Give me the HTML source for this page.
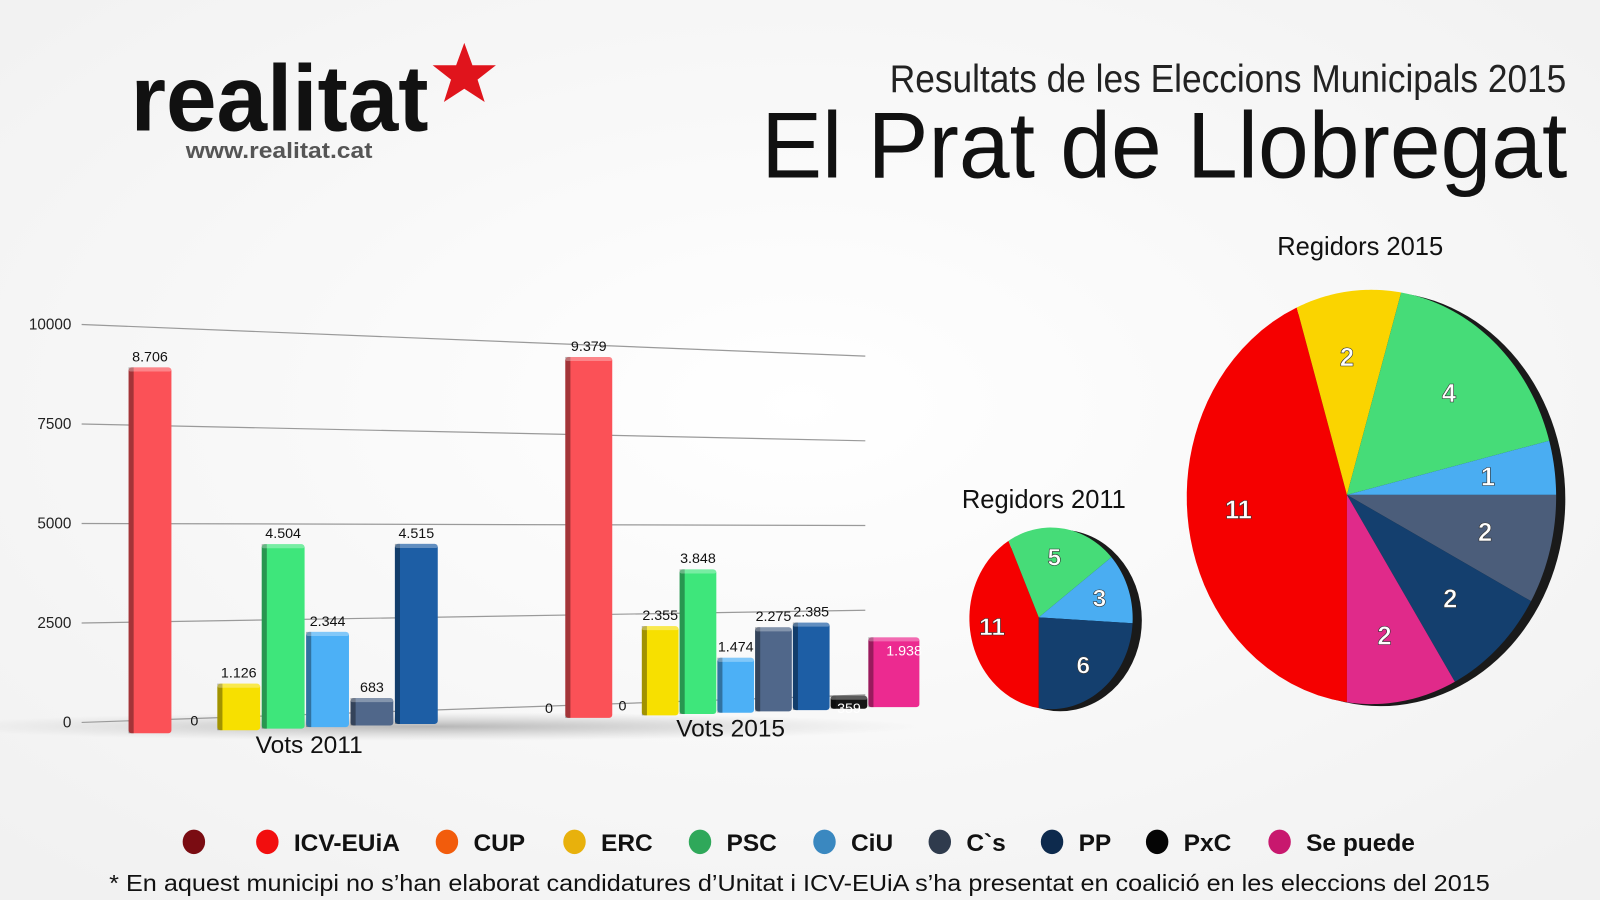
<!DOCTYPE html>
<html><head><meta charset="utf-8">
<style>
html,body{margin:0;padding:0;width:1600px;height:900px;overflow:hidden;background:#f7f7f7;}
svg{display:block;font-family:"Liberation Sans",sans-serif;}
</style></head>
<body>
<svg id="chart" width="1600" height="900" viewBox="0 0 1568 882" preserveAspectRatio="none">
<defs>
<radialGradient id="bg" cx="0.5" cy="0.45" r="0.7"><stop offset="0" stop-color="#ffffff"/><stop offset="1" stop-color="#f1f1f1"/></radialGradient>
<radialGradient id="shadow" cx="0.5" cy="0.5" r="0.5"><stop offset="0" stop-color="#9a9a9a" stop-opacity="0.7"/><stop offset="1" stop-color="#bbb" stop-opacity="0"/></radialGradient>
</defs>
<rect width="1568" height="882" fill="url(#bg)"/>
<g>
<text x="128" y="128" font-size="92" font-weight="bold" fill="#111" textLength="292" lengthAdjust="spacingAndGlyphs">realitat</text>
<polygon points="455,42 463,64 486,64 468,78 475,100 455,87 435,100 442,78 424,64 447,64" fill="#e0141c"/>
<text x="182" y="155" font-size="22" font-weight="bold" fill="#555" textLength="183" lengthAdjust="spacingAndGlyphs">www.realitat.cat</text>
</g>
<text x="872" y="90" font-size="38" fill="#222" textLength="663" lengthAdjust="spacingAndGlyphs">Resultats de les Eleccions Municipals 2015</text>
<text x="746" y="174" font-size="92" fill="#111" textLength="790" lengthAdjust="spacingAndGlyphs">El Prat de Llobregat</text>
<g id="bars"></g>
<g id="pies"></g>
<g id="legend"></g>
<text x="107" y="873" font-size="23" fill="#111" textLength="1353" lengthAdjust="spacingAndGlyphs">* En aquest municipi no s’han elaborat candidatures d’Unitat i ICV-EUiA s’ha presentat en coalició en les eleccions del 2015</text>
</svg>
<script>
// ---- data ----
const ticks = [0, 2500, 5000, 7500, 10000];
const cats2011 = ["ICV-EUiA","CUP","ERC","PSC","CiU","C`s","PP"];
const votes2011 = [8706, 0, 1126, 4504, 2344, 683, 4515];
const labels2011 = ["8.706","0","1.126","4.504","2.344","683","4.515"];
const cats2015 = ["Unitat","ICV-EUiA","CUP","ERC","PSC","CiU","C`s","PP","PxC","Se puede"];
const votes2015 = [0, 9379, 0, 2355, 3848, 1474, 2275, 2385, 359, 1938];
const labels2015 = ["0","9.379","0","2.355","3.848","1.474","2.275","2.385","359","1.938"];
const seats2011Parties = ["ICV-EUiA","PSC","CiU","PP"];
const seats2011 = [11, 5, 3, 6];
const seats2015Parties = ["ICV-EUiA","ERC","PSC","CiU","C`s","PP","Se puede"];
const seats2015 = [11, 2, 4, 1, 2, 2, 2];
const legendNames = ["","ICV-EUiA","CUP","ERC","PSC","CiU","C`s","PP","PxC","Se puede"];

const NS = "http://www.w3.org/2000/svg";
const barColor = {"Unitat":"#7a0a10","ICV-EUiA":"#fb5157","CUP":"#f26a10","ERC":"#f7e000","PSC":"#3ee67b","CiU":"#4cb0f6","C`s":"#50678a","PP":"#1d5ea5","PxC":"#151515","Se puede":"#ec2a90"};
const pieColor = {"ICV-EUiA":"#f50000","ERC":"#fad400","PSC":"#46dc78","CiU":"#4aadf2","C`s":"#4b5d7a","PP":"#143f6e","Se puede":"#e02a8a"};
const legColor = ["#7a0c12","#f20e0e","#f25c0c","#e8b10c","#2fa85a","#3a88c0","#2f3b4d","#0d2a4d","#050505","#c8186e"];
function mk(tag, attrs, parent){const e=document.createElementNS(NS,tag);for(const k in attrs)e.setAttribute(k,attrs[k]);parent.appendChild(e);return e;}

// ---- axes (perspective) ----
function baseY(x){return 708 - 27*(x-80)/768;}
function topY(x){return 318 + 31*(x-80)/768;}
function gridY(v,x){return baseY(x) - v/10000*(baseY(x)-topY(x));}
function barY(v,x){return baseY(x) + 13 - v/10000*(baseY(x)-topY(x))*1.07;}

const gB = document.getElementById('bars');
const sh = mk('ellipse',{cx:420,cy:712,rx:480,ry:14,fill:'url(#shadow)'},gB);


ticks.forEach(t=>{
  const l = mk('line',{x1:80,y1:gridY(t,80),x2:848,y2:gridY(t,848),stroke:'#9a9a9a','stroke-width':1.2},gB);
  
  
  const tx = mk('text',{x:70,y:gridY(t,80)+5,'font-size':15,'text-anchor':'end',fill:'#222'},gB);
  tx.textContent = t;
  
  
});
function drawGroup(cats, vals, labs, xOf, wOf, year){
  cats.forEach((c,i)=>{
    const x = xOf(i), w = wOf(i), v = vals[i];
    const cx = x + w/2;
    const yb = barY(0,cx), yt = barY(v,cx);
    if (v>0){
      const g = mk('g',{},gB);
      
      
      mk('rect',{x:x,y:yt,width:w,height:yb-yt,rx:3,fill:barColor[c]},g);
      mk('rect',{x:x,y:yt,width:5,height:yb-yt,fill:'#000',opacity:0.35},g);
      mk('rect',{x:x,y:yt,width:w,height:4,rx:2,fill:'#fff',opacity:0.3},g);
    }
    let ty = v>0 ? yt-6 : yb-6;
    let tx = cx;
    let fill = '#111';
    if (c==="Se puede"){ty = yt+18; tx = cx+10; fill='#fff';}
    if (c==="PxC"){ty = yb+4; fill='#fff';}
    const t = mk('text',{x:tx,y:ty,'font-size':14,'text-anchor':'middle',fill:fill},gB);
    t.textContent = labs[i];
    
    
  });
}
drawGroup(cats2011, votes2011, labels2011, i=> i===0?126:126+i*43.5, i=>42, '2011');
drawGroup(cats2015, votes2015, labels2015, i=> i===1?554:(i===0?520:518+i*37), i=> i===1?46:(i===9?50:36), '2015');
const x1 = mk('text',{x:303,y:738,'font-size':24,'text-anchor':'middle',fill:'#111'},gB);
x1.textContent='Vots 2011';


const x2 = mk('text',{x:716,y:722,'font-size':24,'text-anchor':'middle',fill:'#111'},gB);
x2.textContent='Vots 2015';



// ---- pies ----
const gP = document.getElementById('pies');
function rayHit(V,C,rx,ry,ang){
  const a = ang*Math.PI/180, dx=Math.sin(a), dy=-Math.cos(a);
  const px=(V[0]-C[0])/rx, py=(V[1]-C[1])/ry, qx=dx/rx, qy=dy/ry;
  const A=qx*qx+qy*qy, B=2*(px*qx+py*qy), Cc=px*px+py*py-1;
  const t=(-B+Math.sqrt(B*B-4*A*Cc))/(2*A);
  return [V[0]+t*dx, V[1]+t*dy];
}
function drawPie(parties, seats, V, C, rx, ry, name, title, titlePos, fs){
  const g = mk('g',{},gP);
  
  
  const rim = mk('ellipse',{cx:C[0]+9,cy:C[1]+2,rx:rx,ry:ry,fill:'#1a1a1a'},g);
  
  
  const total = seats.reduce((a,b)=>a+b,0);
  let ang = 180;
  parties.forEach((p,i)=>{
    const sweep = seats[i]/total*360;
    const pts=[V.join(',')];
    for(let k=0;k<=40;k++){pts.push(rayHit(V,C,rx,ry,ang+sweep*k/40).join(','));}
    const s = mk('polygon',{points:pts.join(' '),fill:pieColor[p]},g);
    
    
    const mid = ang+sweep/2, e = rayHit(V,C,rx,ry,mid);
    const lx = V[0]+(e[0]-V[0])*0.68, ly = V[1]+(e[1]-V[1])*0.68;
    const t = mk('text',{x:lx,y:ly+fs*0.36,'font-size':fs,'font-weight':'bold','text-anchor':'middle',fill:'#fff',stroke:'#333','stroke-width':0.6},g);
    t.textContent = seats[i];
    
    
    ang += sweep;
  });
  const tt = mk('text',{x:titlePos[0],y:titlePos[1],'font-size':25,'text-anchor':'middle',fill:'#111'},g);
  tt.textContent = title;
  
  
}
drawPie(seats2011Parties, seats2011, [1018,605], [1030,606], 80, 89, 'pie-2011', 'Regidors 2011', [1023,498], 24);
drawPie(seats2015Parties, seats2015, [1320,485], [1344,487], 181, 203, 'pie-2015', 'Regidors 2015', [1333,250], 25);

// ---- legend ----
const gL = document.getElementById('legend');
const legX = [190,262,438,563,686,808,921,1031,1134,1254];
legendNames.forEach((n,i)=>{
  const g = mk('g',{},gL);
  
  
  mk('ellipse',{cx:legX[i],cy:825,rx:11,ry:12,fill:legColor[i]},g);
  if(n){const t=mk('text',{x:legX[i]+26,y:834,'font-size':24,'font-weight':'bold',fill:'#111'},g);t.textContent=n;}
});
</script>
</body></html>
